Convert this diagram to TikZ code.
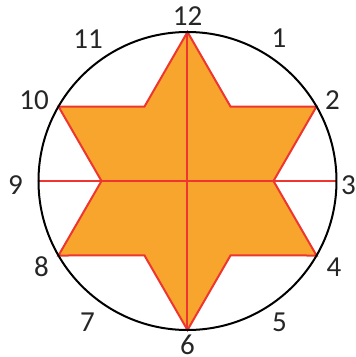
\documentclass[tikz,border=0pt]{standalone}
\usepackage{fontspec}
\setmainfont{Carlito}
\usepackage{xcolor}
\definecolor{starfill}{HTML}{F8A52D}
\definecolor{starline}{HTML}{EE3530}

\begin{document}
\begin{tikzpicture}[x=1pt,y=1pt,font=\fontsize{29}{30}\selectfont]
  \useasboundingbox (-187.5,-176) rectangle (168.5,181);
  \coordinate (O) at (0,0);
  % outer and inner points of the star
  \foreach \k/\a in {12/90,2/30,4/-30,6/-90,8/-150,10/150} \coordinate (P\k) at (\a:149);
  \foreach \k/\a in {1/60,3/0,5/-60,7/-120,9/180,11/120} \coordinate (Q\k) at (\a:86);
  \coordinate (L9) at (180:149); \coordinate (R3) at (0:149);
  \filldraw[fill=starfill,draw=starline,line width=2pt,line join=miter]
    (P12)--(Q1)--(P2)--(Q3)--(P4)--(Q5)--(P6)--(Q7)--(P8)--(Q9)--(P10)--(Q11)--cycle;
  \draw[starline,line width=2pt] (P12)--(P6); \draw[starline,line width=2pt] (L9)--(R3);
  \draw[line width=2pt] (O) circle (149);
  % clock numbers
  \foreach \n/\x/\y in {12/0/164.5,1/91.5/142.5,2/145/81,3/161/-4,4/146.5/-86,5/92/-141.5,
    6/0/-163.5,7/-100/-141.5,8/-146/-86,9/-172/-4,10/-153.5/81,11/-99.5/142}
    \node[text=black!85,inner sep=0.5pt] (h\n) at (\x,\y) {\n};
\end{tikzpicture}
\end{document}
